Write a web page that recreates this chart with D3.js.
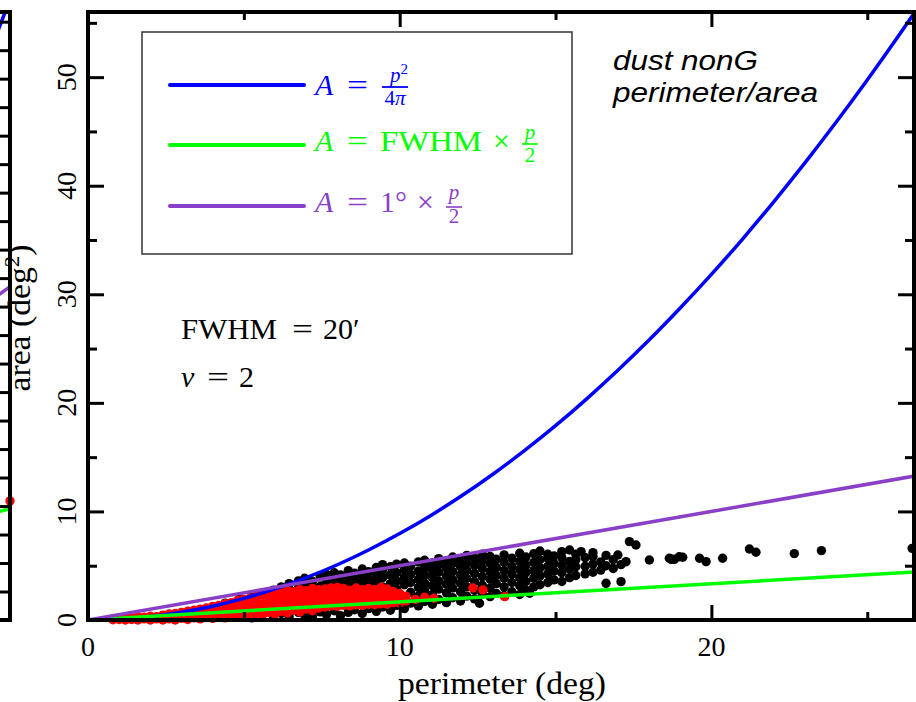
<!DOCTYPE html>
<html>
<head>
<meta charset="utf-8">
<script src="https://cdn.jsdelivr.net/npm/d3@7/dist/d3.min.js"></script>
<style>
body { margin: 0; background: #fff; }
svg text { font-family: "Liberation Serif", "Times New Roman", serif; }
.tick line { stroke: #000; stroke-width: 3; }
</style>
</head>
<body>
<div id="chart"></div>
<script>
// axis ticks
const xTicks = [0, 10, 20];
const xMinor = [5, 15, 25];
const yTicks = [0, 10, 20, 30, 40, 50];
const yMinor = [5, 15, 25, 35, 45, 55];
const xMax = 26.5;
const yMax = 56;

// neighbour panel (only its right edge shows)
const leftTicks = [0.5,1,1.5,2,2.5,3,3.5,4,4.5,5,5.5,6,6.5,7,7.5,8,8.5,9,9.5,10,10.5];
const leftRed = [[11.7, 2.09]];

// model curves: A = p^2/4pi, A = FWHM*p/2, A = 1deg*p/2
const blueCurve = [[0,0],[1,0.08],[2,0.32],[3,0.72],[4,1.27],[5,1.99],[6,2.86],[7,3.9],[8,5.09],[9,6.45],
  [10,7.96],[11,9.63],[12,11.46],[13,13.45],[14,15.6],[15,17.9],[16,20.37],[17,23.0],[18,25.78],
  [19,28.73],[20,31.83],[21,35.09],[22,38.52],[23,42.1],[24,45.84],[25,49.74],[26,53.79],[27,58.0]];
const greenCurve = [[0,0],[27,4.5]];
const purpleCurve = [[0,0],[27,13.5]];

// black points: [perimeter, [areas...]] by column
const blackCols = [
  [4.4,[0.25,1.55]],
  [4.85,[0.4,1.9]],
  [5.25,[0.2,1.2,2.15]],
  [5.6,[0.55,2.45]],
  [5.95,[0.3,1.5,2.75]],
  [6.2,[0.6,2.35,3.05]],
  [6.45,[0.35,2.8,3.35]],
  [6.75,[0.7,2.95,3.6]],
  [6.95,[0.45,2.5,3.25,3.85]],
  [7.2,[0.3,2.9,3.55]],
  [7.45,[0.75,3.1,3.95]],
  [7.65,[0.5,2.7,3.4,4.2]],
  [7.9,[0.85,3.15,3.75,4.35]],
  [8.1,[0.4,2.95,3.55,4.15]],
  [8.35,[0.7,3.3,3.95,4.55]],
  [8.55,[0.95,3.05,3.65,4.3]],
  [8.8,[0.6,3.45,4.05,4.7]],
  [9.0,[1.05,3.2,3.8,4.45]],
  [9.25,[0.8,3.55,4.2,4.85]],
  [9.45,[1.2,3.05,3.9,4.6,5.1]],
  [9.7,[0.9,3.35,4.15,4.9]],
  [9.9,[1.35,2.85,3.6,4.35,5.15]],
  [10.15,[1.05,3.25,3.95,4.65,5.25]],
  [10.35,[1.55,2.55,3.45,4.2,4.95]],
  [10.6,[1.3,2.2,3.0,3.75,4.5,5.35]],
  [10.8,[1.7,2.7,3.4,4.15,4.85,5.5]],
  [11.05,[1.45,2.35,3.15,3.9,4.6,5.25]],
  [11.25,[1.9,2.85,3.6,4.4,5.1,5.65]],
  [11.5,[1.6,2.5,3.3,4.05,4.8,5.45]],
  [11.7,[2.05,2.95,3.7,4.45,5.2,5.8]],
  [11.95,[1.75,2.6,3.4,4.15,4.9,5.55]],
  [12.15,[2.2,3.05,3.85,4.6,5.3,5.95]],
  [12.4,[1.95,2.75,3.55,4.3,5.05,5.7]],
  [12.56,[1.54]],
  [12.65,[2.4,3.2,4.0,4.75,5.45,6.05]],
  [12.9,[2.15,2.95,3.75,4.45,5.2,5.85]],
  [13.1,[2.45,3.35,4.1,4.85,5.6]],
  [13.35,[2.25,3.05,3.85,4.55,5.3,6.0]],
  [13.6,[2.6,3.45,4.25,4.95,5.7]],
  [13.85,[2.35,3.15,3.9,4.65,5.4,6.15]],
  [14.05,[2.75,3.55,4.35,5.05,5.8]],
  [14.17,[2.46]],
  [14.3,[3.05,3.85,4.55,5.3,6.1]],
  [14.5,[3.25,4.05,4.8,5.55,6.35]],
  [14.75,[3.45,4.25,4.95,5.7,6.05]],
  [14.95,[3.7,4.5,5.2,5.9]],
  [15.2,[3.55,4.35,5.05,5.75,6.3]],
  [15.45,[3.9,4.7,5.4,6.45]],
  [15.65,[4.1,4.9,5.55,6.05]],
  [15.82,[6.3]],
  [15.95,[4.25,4.95,5.75]],
  [16.2,[4.4,5.15,5.85,6.2]],
  [16.45,[4.6,5.35]],
  [16.62,[3.38,5.0,5.95]],
  [16.85,[4.75,5.55]],
  [17.0,[5.99]],
  [17.1,[3.53,5.1]],
  [17.26,[5.37]],
  [17.37,[7.22]],
  [17.58,[6.91]],
  [18.01,[5.53]],
  [18.65,[5.69]],
  [18.71,[5.59]],
  [18.81,[5.59]],
  [18.97,[5.83]],
  [19.08,[5.78]],
  [19.62,[5.69]],
  [19.83,[5.38]],
  [20.36,[5.69]],
  [21.22,[6.54]],
  [21.43,[6.24]],
  [22.66,[6.11]],
  [23.53,[6.39]],
  [26.44,[6.6]]
];

// red points: [perimeter, [areas...]] by column
const redCols = [
  [0.8,[0.02,0.1]],
  [1.0,[0.05,0.15]],
  [1.2,[0.0,0.1,0.2]],
  [1.4,[0.05,0.2]],
  [1.6,[0.0,0.15,0.3]],
  [1.8,[0.1,0.25]],
  [2.0,[0.0,0.2,0.35]],
  [2.2,[0.1,0.3]],
  [2.4,[0.0,0.2,0.45]],
  [2.6,[0.1,0.35,0.55]],
  [2.8,[0.0,0.25,0.6]],
  [3.0,[0.15,0.45,0.7]],
  [3.2,[0.05,0.35,0.8]],
  [3.4,[0.2,0.55,0.9]],
  [3.6,[0.1,0.45,1.0]],
  [3.8,[0.3,0.7,1.1]],
  [4.0,[0.15,0.55,0.95,1.25]],
  [4.2,[0.35,0.8,1.35]],
  [4.4,[0.2,0.65,1.1,1.5]],
  [4.6,[0.4,0.9,1.6]],
  [4.8,[0.25,0.75,1.3,1.8]],
  [5.0,[0.5,1.0,1.5,1.9]],
  [5.2,[0.35,0.85,1.4,2.0]],
  [5.4,[0.6,1.1,1.7,2.2]],
  [5.6,[0.45,0.95,1.5,2.3]],
  [5.8,[0.7,1.2,1.8,2.4]],
  [6.0,[0.55,1.05,1.6,2.2,2.6]],
  [6.2,[0.8,1.35,1.9,2.5]],
  [6.4,[0.65,1.15,1.7,2.3,2.7]],
  [6.6,[0.9,1.45,2.0,2.6]],
  [6.8,[0.75,1.25,1.8,2.4,2.8]],
  [7.0,[1.0,1.55,2.1,2.7]],
  [7.2,[0.85,1.35,1.9,2.5,2.9]],
  [7.4,[1.1,1.65,2.2,2.8]],
  [7.6,[1.2,1.7,2.25,2.85]],
  [7.8,[1.3,1.8,2.35,2.95]],
  [8.0,[1.25,1.75,2.3,2.8,3.0]],
  [8.2,[1.35,1.85,2.4,2.9]],
  [8.4,[1.3,1.8,2.3,2.75]],
  [8.6,[1.4,1.9,2.45,2.95]],
  [8.8,[1.35,1.85,2.35,2.8]],
  [9.0,[1.45,1.95,2.5,2.9]],
  [9.2,[1.4,1.9,2.4,2.8]],
  [9.4,[1.5,2.0,2.55,3.0]],
  [9.6,[1.45,1.95,2.45,2.85]],
  [9.8,[1.6,2.1,2.6]],
  [10.0,[1.55,2.0,2.45]],
  [10.2,[1.75,2.2]],
  [10.5,[1.9]],
  [10.8,[2.1]],
  [11.1,[2.0]],
  [12.35,[2.95]],
  [12.67,[2.76]],
  [13.37,[2.15]]
];

const blue = "#0000ff";
const green = "#00ff00";
const purple = "#8a3fc8";
const dotR = 4.7;

const width = 916;
const height = 702;
const plot = {left: 88, right: 914, top: 12, bottom: 620};

const svg = d3.select("#chart")
  .append("svg")
  .attr("width", width)
  .attr("height", height);

const defs = svg.append("defs");
defs.append("clipPath").attr("id", "clipMain")
  .append("rect")
  .attr("x", plot.left).attr("y", plot.top)
  .attr("width", plot.right - plot.left).attr("height", plot.bottom - plot.top);
defs.append("clipPath").attr("id", "clipLeft")
  .append("rect")
  .attr("x", -500).attr("y", plot.top)
  .attr("width", 510).attr("height", plot.bottom - plot.top);

const xScale = d3.scaleLinear().domain([0, xMax]).range([plot.left, plot.right]);
const yScale = d3.scaleLinear().domain([0, yMax]).range([plot.bottom, plot.top]);

// neighbour panel scales
const xLeft = d3.scaleLinear().domain([0, 11.7]).range([10 - 11.7 * 40, 10]);
const yLeft = d3.scaleLinear().domain([0, 10.67]).range([plot.bottom, plot.top]);

// ---- neighbour panel fragment
const lp = svg.append("g");
const lineLeft = d3.line()
  .x(d => xLeft(d[0]))
  .y(d => yLeft(d[1]))
  .curve(d3.curveMonotoneX);

[[greenCurve, green], [purpleCurve, purple], [blueCurve, blue]].forEach(function(c) {
  lp.append("path")
    .attr("clip-path", "url(#clipLeft)")
    .attr("d", lineLeft(c[0]))
    .attr("fill", "none")
    .attr("stroke", c[1])
    .attr("stroke-width", 3.5);
});

lp.selectAll("circle")
  .data(leftRed)
  .join("circle")
  .attr("cx", d => xLeft(d[0]))
  .attr("cy", d => yLeft(d[1]))
  .attr("r", dotR)
  .attr("fill", "#ff0000");

lp.append("g")
  .attr("transform", "translate(10,0)")
  .call(d3.axisRight(yLeft).tickValues(leftTicks).tickSize(-12).tickFormat(""))
  .call(g => g.select(".domain").remove());

lp.append("path")
  .attr("d", `M-5,${plot.top}H10V${plot.bottom}H-5`)
  .attr("fill", "none")
  .attr("stroke", "#000")
  .attr("stroke-width", 4);

// ---- scatter
const blackPts = blackCols.flatMap(c => c[1].map(a => [c[0], a]));
const redPts = redCols.flatMap(c => c[1].map(a => [c[0], a]));

svg.append("g")
  .selectAll("circle")
  .data(blackPts)
  .join("circle")
  .attr("cx", d => xScale(d[0]))
  .attr("cy", d => yScale(d[1]))
  .attr("r", dotR)
  .attr("fill", "#000");

svg.append("g")
  .selectAll("circle")
  .data(redPts)
  .join("circle")
  .attr("cx", d => xScale(d[0]))
  .attr("cy", d => yScale(d[1]))
  .attr("r", dotR)
  .attr("fill", "#ff0000");

// ---- model curves
const line = d3.line()
  .x(d => xScale(d[0]))
  .y(d => yScale(d[1]))
  .curve(d3.curveMonotoneX);

[[blueCurve, blue], [greenCurve, green], [purpleCurve, purple]].forEach(function(c) {
  svg.append("path")
    .attr("clip-path", "url(#clipMain)")
    .attr("d", line(c[0]))
    .attr("fill", "none")
    .attr("stroke", c[1])
    .attr("stroke-width", 3.5);
});

// ---- axes (ticks inward on all four sides)
function ticks(axis, values, size, tx, ty) {
  svg.append("g")
    .attr("transform", `translate(${tx},${ty})`)
    .call(axis.tickValues(values).tickSize(size).tickFormat(""))
    .call(g => g.select(".domain").remove());
}
ticks(d3.axisBottom(xScale), xTicks, -15, 0, plot.bottom);
ticks(d3.axisBottom(xScale), xMinor, -8, 0, plot.bottom);
ticks(d3.axisTop(xScale), xTicks, -15, 0, plot.top);
ticks(d3.axisTop(xScale), xMinor, -8, 0, plot.top);
ticks(d3.axisLeft(yScale), yTicks, -16, plot.left, 0);
ticks(d3.axisLeft(yScale), yMinor, -9, plot.left, 0);
ticks(d3.axisRight(yScale), yTicks, -16, plot.right, 0);
ticks(d3.axisRight(yScale), yMinor, -9, plot.right, 0);

svg.append("rect")
  .attr("x", plot.left).attr("y", plot.top)
  .attr("width", plot.right - plot.left)
  .attr("height", plot.bottom - plot.top)
  .attr("fill", "none")
  .attr("stroke", "#000")
  .attr("stroke-width", 4);

// tick labels
svg.append("g")
  .selectAll("text")
  .data(xTicks)
  .join("text")
  .attr("x", d => xScale(d))
  .attr("y", 656)
  .attr("text-anchor", "middle")
  .attr("font-size", 28)
  .text(d => d);

svg.append("g")
  .selectAll("text")
  .data(yTicks)
  .join("text")
  .attr("transform", d => `translate(76,${yScale(d)}) rotate(-90)`)
  .attr("text-anchor", "middle")
  .attr("font-size", 28)
  .text(d => d);

// axis titles
svg.append("text")
  .attr("x", (plot.left + plot.right) / 2 + 1)
  .attr("y", 694)
  .attr("text-anchor", "middle")
  .attr("font-size", 31)
  .attr("textLength", 208)
  .attr("lengthAdjust", "spacingAndGlyphs")
  .text("perimeter (deg)");

const yTitle = svg.append("text")
  .attr("transform", `translate(30,${(plot.top + plot.bottom) / 2 + 2}) rotate(-90)`)
  .attr("text-anchor", "middle")
  .attr("font-size", 31)
  .attr("textLength", 147)
  .attr("lengthAdjust", "spacingAndGlyphs");
yTitle.append("tspan").text("area (deg");
yTitle.append("tspan").attr("font-size", 21).attr("dy", -11).text("2");
yTitle.append("tspan").attr("dy", 11).text(")");

// ---- legend
svg.append("rect")
  .attr("x", 142).attr("y", 32)
  .attr("width", 430).attr("height", 222)
  .attr("fill", "#fff")
  .attr("stroke", "#333")
  .attr("stroke-width", 1.5);

const legendRows = [
  {color: blue, y: 85},
  {color: green, y: 145},
  {color: purple, y: 206}
];
legendRows.forEach(function(r) {
  svg.append("line")
    .attr("x1", 170).attr("x2", 304)
    .attr("y1", r.y).attr("y2", r.y)
    .attr("stroke", r.color)
    .attr("stroke-width", 4)
    .attr("stroke-linecap", "round");
});

function txt(x, yy, s, color, size, italic) {
  return svg.append("text")
    .attr("x", x).attr("y", yy)
    .attr("fill", color)
    .attr("font-size", size)
    .attr("font-style", italic ? "italic" : "normal")
    .text(s);
}
function frac(cx, top, num, den, color, barY, denBase) {
  const n = txt(cx, top, num, color, 21, true).attr("text-anchor", "middle");
  svg.append("line")
    .attr("x1", cx - 8).attr("x2", cx + 8)
    .attr("y1", barY).attr("y2", barY)
    .attr("stroke", color).attr("stroke-width", 1.6);
  txt(cx, denBase, den, color, 21, false).attr("text-anchor", "middle");
  return n;
}

// row 1: A = p^2 / 4pi
txt(315, 95, "A", blue, 30, true);
txt(347, 95, "=", blue, 30, false).attr("textLength", 21).attr("lengthAdjust", "spacingAndGlyphs");
const num1 = txt(390, 82, "p", blue, 21, true);
num1.append("tspan").attr("font-size", 15).attr("font-style", "normal").attr("dy", -8).text("2");
svg.append("line").attr("x1", 382).attr("x2", 408).attr("y1", 87).attr("y2", 87)
  .attr("stroke", blue).attr("stroke-width", 1.8);
const den1 = txt(395, 105, "4", blue, 21, false).attr("text-anchor", "middle");
den1.append("tspan").attr("font-style", "italic").text("π");

// row 2: A = FWHM x p/2
txt(315, 151, "A", green, 30, true);
txt(347, 151, "=", green, 30, false).attr("textLength", 21).attr("lengthAdjust", "spacingAndGlyphs");
txt(380, 151, "FWHM", green, 30, false).attr("textLength", 102).attr("lengthAdjust", "spacingAndGlyphs");
txt(493, 151, "×", green, 30, false);
frac(530, 139, "p", "2", green, 144, 162);

// row 3: A = 1deg x p/2
txt(315, 212, "A", purple, 30, true);
txt(347, 212, "=", purple, 30, false).attr("textLength", 21).attr("lengthAdjust", "spacingAndGlyphs");
txt(380, 212, "1°", purple, 30, false);
txt(417, 212, "×", purple, 30, false);
frac(454, 199, "p", "2", purple, 207, 223);

// ---- annotations
txt(181, 339, "FWHM", "#000", 30, false).attr("textLength", 96).attr("lengthAdjust", "spacingAndGlyphs");
txt(292, 339, "=", "#000", 30, false).attr("textLength", 21).attr("lengthAdjust", "spacingAndGlyphs");
txt(323, 339, "20′", "#000", 30, false);
txt(181, 387, "ν", "#000", 30, true);
txt(207, 387, "=", "#000", 30, false).attr("textLength", 22).attr("lengthAdjust", "spacingAndGlyphs");
txt(239, 387, "2", "#000", 30, false);

svg.append("text")
  .attr("x", 613).attr("y", 70)
  .style("font-family", "'Liberation Sans', Arial, sans-serif")
  .attr("font-style", "italic")
  .attr("font-size", 27)
  .attr("textLength", 145)
  .attr("lengthAdjust", "spacingAndGlyphs")
  .text("dust nonG");
svg.append("text")
  .attr("x", 613).attr("y", 102)
  .style("font-family", "'Liberation Sans', Arial, sans-serif")
  .attr("font-style", "italic")
  .attr("font-size", 27)
  .attr("textLength", 205)
  .attr("lengthAdjust", "spacingAndGlyphs")
  .text("perimeter/area");
</script>
</body>
</html>
